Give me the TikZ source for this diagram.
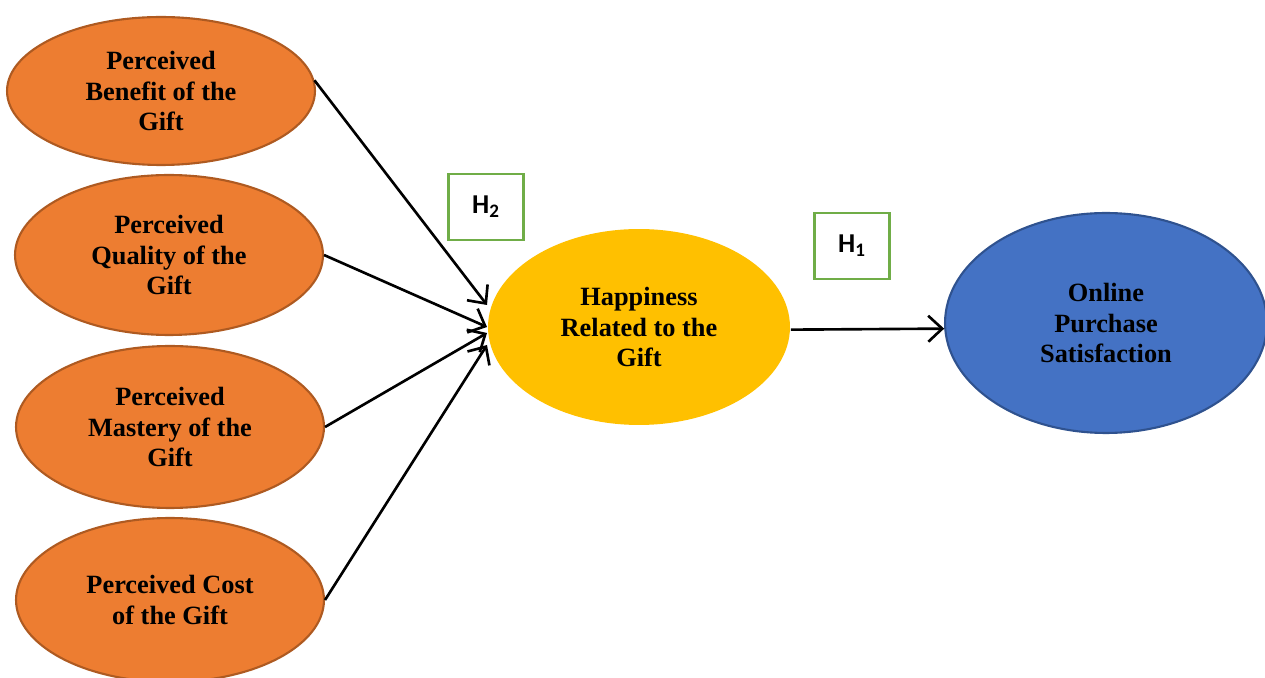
\documentclass[tikz,border=0pt]{standalone}
\usepackage{fontspec}
\setmainfont{Liberation Serif}
\newfontfamily\hfont{Carlito}
\usepackage{xcolor}
\usetikzlibrary{shapes.geometric,arrows.meta,positioning}

\definecolor{orangefill}{HTML}{ED7D31}
\definecolor{orangeline}{HTML}{AE5A21}
\definecolor{goldfill}{HTML}{FFC000}
\definecolor{bluefill}{HTML}{4472C4}
\definecolor{blueline}{HTML}{2F528F}
\definecolor{hypline}{HTML}{70AD47}

\begin{document}
\begin{tikzpicture}[x=0.02cm,y=-0.02cm,
		construct/.style={ellipse, align=center, inner sep=0pt, line width=1.2pt,
			font=\fontsize{15}{17.6}\selectfont\bfseries},
		factor/.style={construct, draw=orangeline, fill=orangefill,
			minimum width=6.16cm, minimum height=3.2cm},
		hyp/.style={draw=hypline, fill=white, line width=1.4pt,
			minimum width=1.5cm, minimum height=1.32cm, inner sep=0pt,
			font=\hfont\fontsize{15.5}{17}\selectfont\bfseries},
		link/.style={line width=1.5pt, -{Straight Barb[length=2.8mm,width=5.2mm]}}]
		\useasboundingbox (0,0) rectangle (1265,678);
		\clip (0,0) rectangle (1265,678);

		% antecedents
		\node[factor, minimum height=2.96cm] (benefit) at (161,91) {Perceived\\Benefit of the\\Gift};
		\node[factor] (quality) at (169,255) {Perceived\\Quality of the\\Gift};
		\node[factor, minimum height=3.24cm] (mastery) at (170,427) {Perceived\\Mastery of the\\Gift};
		\node[factor, minimum height=3.28cm] (cost) at (170,600) {Perceived Cost\\of the Gift};

		% mediator and outcome
		\node[construct, fill=goldfill, minimum width=6.04cm, minimum height=3.92cm] (happy) at (639,327) {Happiness\\Related to the\\Gift};
		\node[construct, draw=blueline, fill=bluefill, minimum width=6.44cm, minimum height=4.4cm] (online) at (1106,323) {Online\\Purchase\\Satisfaction};

		% hypotheses
		\node[hyp] (h2) at (486,207) {H\textsubscript{2}};
		\node[hyp] (h1) at (852,246) {H\textsubscript{1}};

		\coordinate (in1) at (487,305);
		\coordinate (in2) at (487,327);
		\coordinate (in3) at (487,333);
		\coordinate (in4) at (487,345);

		\draw[link] (benefit.4) -- (in1);
		\draw[link] (quality.east) -- (in2);
		\draw[link] (mastery.east) -- (in3);
		\draw[link] (cost.east) -- (in4);
		\draw[link] (happy.-1.5) -- (online.182.5);
	\end{tikzpicture}
\end{document}
